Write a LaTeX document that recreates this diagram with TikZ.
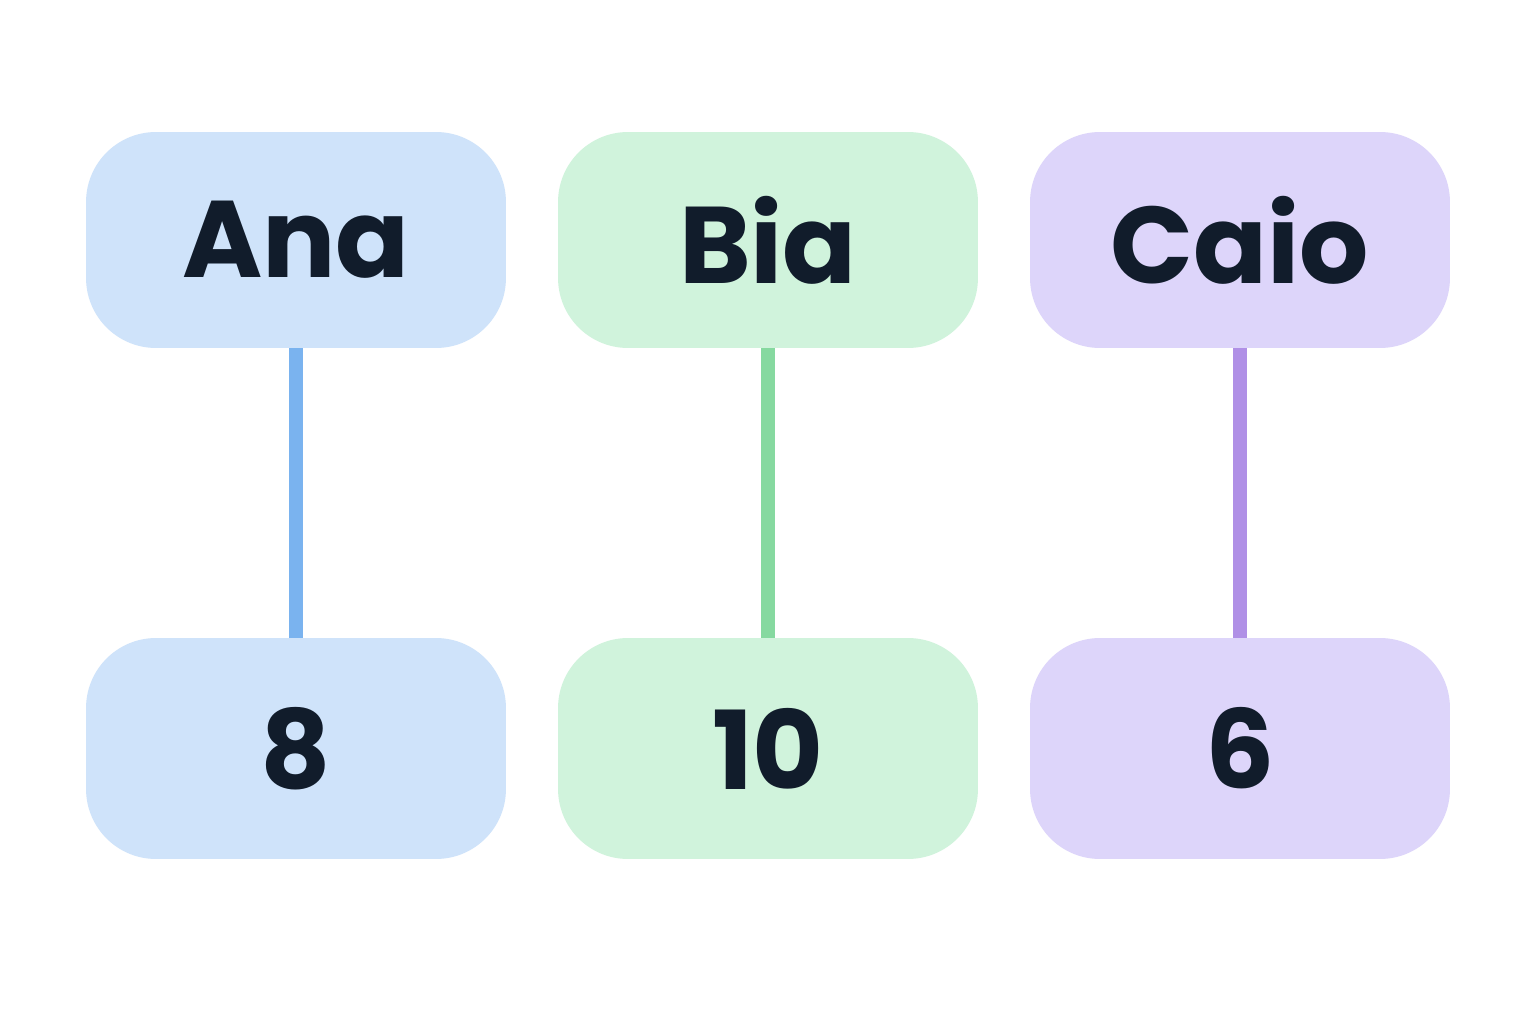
\documentclass[tikz,border=0pt]{standalone}
\usepackage{fontspec}
\setmainfont{Poppins}
\definecolor{bF}{HTML}{CFE3FA}\definecolor{bL}{HTML}{7AB3EF}
\definecolor{gF}{HTML}{D0F3DC}\definecolor{gL}{HTML}{86D9A0}
\definecolor{pF}{HTML}{DDD5FA}\definecolor{pL}{HTML}{B090E6}
\definecolor{txt}{HTML}{111C2B}
\begin{document}
\begin{tikzpicture}[x=0.02cm,y=-0.02cm,
  box/.style={rounded corners=1.4cm,minimum width=8.4cm,inner sep=0pt,text=txt,font=\fontsize{62}{66}\selectfont\bfseries},
  conn/.style={line width=0.28cm}]
\useasboundingbox (0,0) rectangle (1536,1024);
\fill[white] (0,0) rectangle (1536,1024);
\foreach \n/\x/\top/\bot/\c in {a/296/Ana/8/b, b/768/Bia/10/g, c/1240/Caio/6/p}{
  \node[box,fill=\c F,minimum height=4.32cm] (\n1) at (\x,240) {\top};
  \node[box,fill=\c F,minimum height=4.42cm] (\n2) at (\x,748.5) {\bot};
  \draw[conn,draw=\c L] (\n1.south) -- (\n2.north);
}
\end{tikzpicture}
\end{document}
